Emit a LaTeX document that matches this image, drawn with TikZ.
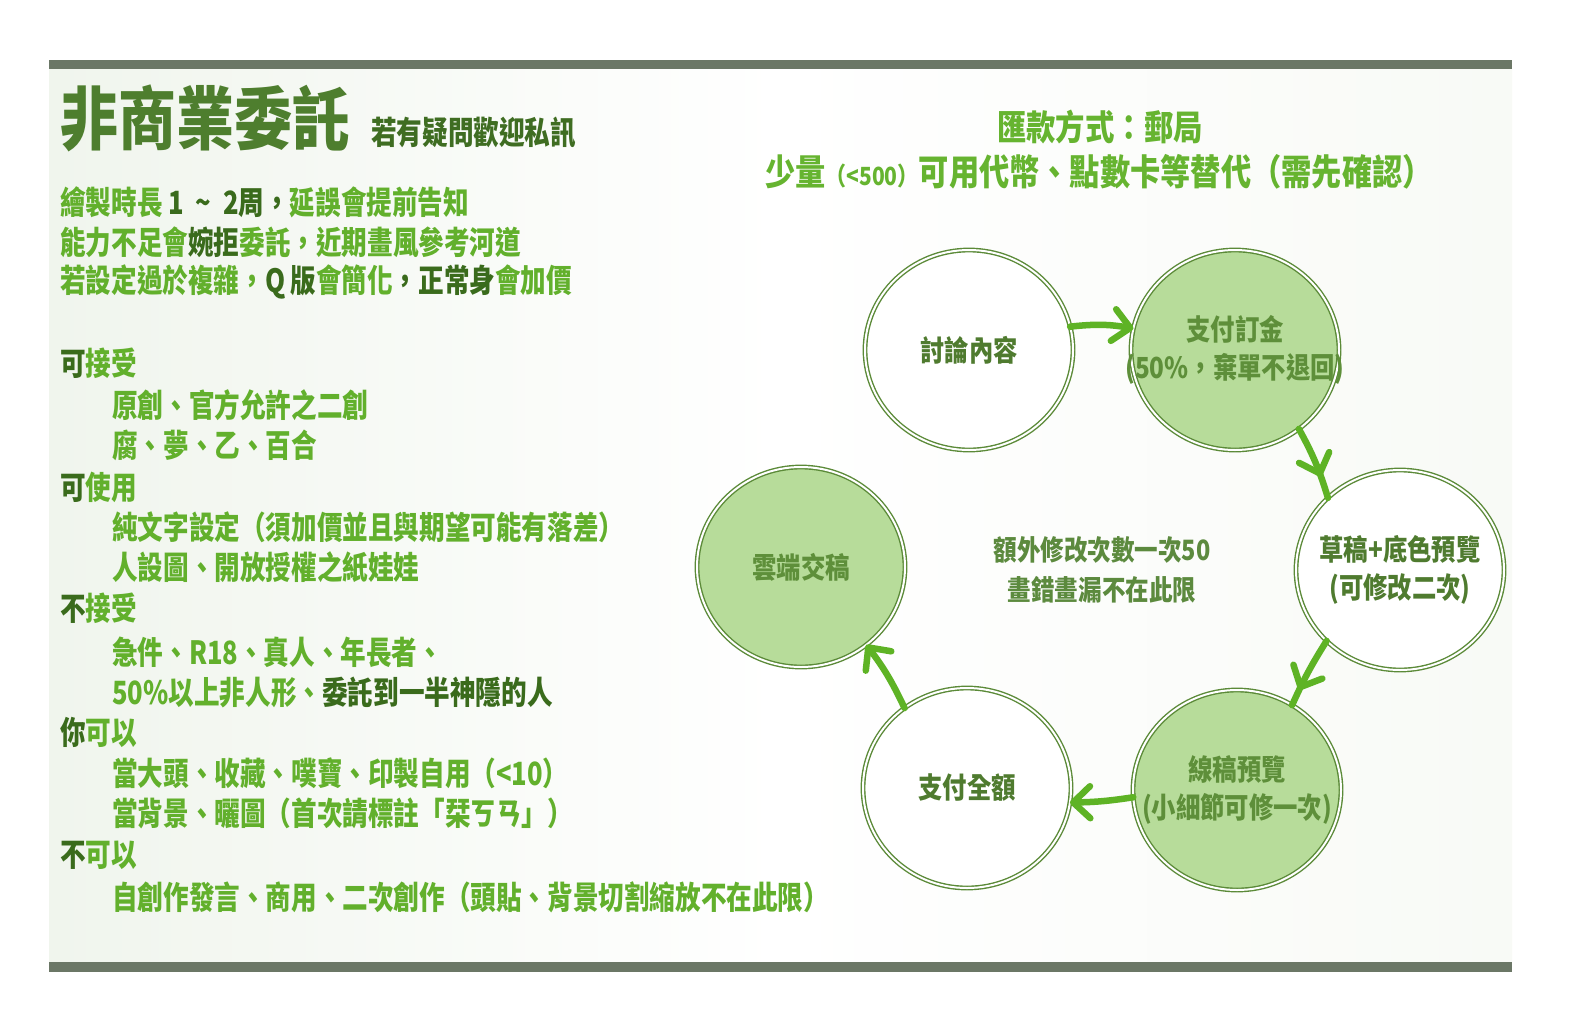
\documentclass[tikz,border=0pt]{standalone}
\usepackage{fontspec}
\usetikzlibrary{arrows.meta,decorations.markings,shapes.geometric}
\newfontfamily\cjk{Noto Sans CJK TC}[FakeStretch=0.84]
\newfontfamily\cjkn{Noto Sans CJK TC}[FakeStretch=0.8]
\newcommand\setfs[2]{\fontsize{#1}{#2}\selectfont}
\definecolor{brt}{HTML}{62B02C}
\definecolor{dk}{HTML}{3A6B1C}
\definecolor{ttl}{HTML}{4E7E2E}
\definecolor{sub}{HTML}{3F6D22}
\definecolor{hdr}{HTML}{66B430}
\definecolor{ring}{HTML}{5B8A38}
\definecolor{cfill}{HTML}{B7DC9A}
\definecolor{ctxt}{HTML}{4F7B2F}
\definecolor{ctxtb}{HTML}{5E8F3A}
\definecolor{ctrtxt}{HTML}{5C8A3E}
\definecolor{arr}{HTML}{5EB325}
\definecolor{barc}{HTML}{6B7766}
\definecolor{panelL}{HTML}{F0F5ED}
\definecolor{panelR}{HTML}{F8FAF6}
\begin{document}
\begin{tikzpicture}[x=1pt,y=-1pt,
  txt/.style={anchor=west, inner sep=0pt, text=brt, font=\cjkn\bfseries\setfs{32}{36}},
  hd/.style={txt},
  circ/.style={ellipse, minimum width=208pt, minimum height=200pt, inner sep=0pt, outer sep=0pt,
    draw=ring, line width=1.4pt, double=white, double distance=2pt, fill=white},
  fcirc/.style={circ, fill=cfill},
  ctext/.style={align=center, inner sep=0pt, text=ctxt, font=\cjk\bfseries\setfs{29}{38}},
  ctextb/.style={ctext, text=ctxtb},
  flowend/.style={draw=arr, line width=6.5pt, line cap=round,
    -{Straight Barb[length=17pt,width=32pt,line cap=round,line join=round]}},
  flowmid/.style={draw=arr, line width=6.5pt, line cap=round, postaction={decorate},
    decoration={markings, mark=at position #1 with {\arrow{Straight Barb[length=17pt,width=32pt,line cap=round,line join=round]}}}}
]
\useasboundingbox (0,0) rectangle (1574,1020);
\fill[white] (0,0) rectangle (1574,1020);
\shade[left color=panelL, right color=panelR, middle color=white] (49,69) rectangle (1512,962);
\fill[barc] (49,60) rectangle (1512,69);
\fill[barc] (49,962) rectangle (1512,972);

% left column
\node[txt, text=ttl, font=\cjk\bfseries\setfs{69}{69}] (title) at (60,118) {非商業委託};
\node[txt, text=sub, font=\cjkn\bfseries\setfs{32}{36}] (subt) at (371,133) {若有疑問歡迎私訊};
\node[txt] (l1) at (60,202) {繪製時長\textcolor{dk}{\ 1 \ {\char"7E} \ 2周，}延誤會提前告知};
\node[txt] (l2) at (60,242) {能力不足會\textcolor{dk}{婉拒}委託，近期畫風參考河道};
\node[txt] (l3) at (60,282) {若設定過於複雜，\textcolor{dk}{Q\,版}會簡化\textcolor{dk}{，正常身}會加價};

\node[hd] (h1) at (60,363) {\textcolor{dk}{可}接受};
\node[txt] (i1) at (112,405) {原創、官方允許之二創};
\node[txt] (i2) at (112,445) {腐、夢、乙、百合};
\node[hd] (h2) at (60,487) {\textcolor{dk}{可}使用};
\node[txt] (i3) at (112,527) {純文字設定（須加價並且與期望可能有落差）};
\node[txt] (i4) at (112,567) {人設圖、開放授權之紙娃娃};
\node[hd] (h3) at (60,608) {\textcolor{dk}{不}接受};
\node[txt] (i5) at (112,652) {急件、R18、真人、年長者、};
\node[txt] (i6) at (112,692) {50\%以上非人形、\textcolor{dk}{委託到一半神隱的人}};
\node[hd] (h4) at (60,732) {\textcolor{dk}{你}可以};
\node[txt] (i7) at (112,773) {當大頭、收藏、噗寶、印製自用（<10）};
\node[txt] (i8) at (112,813) {當背景、曬圖（首次請標註「栞ㄎㄢ」）};
\node[hd] (h5) at (60,855) {\textcolor{dk}{不}可以};
\node[txt] (i9) at (112,897) {自創作發言、商用、二次創作（頭貼、背景切割縮放不在此限）};

% right header
\node[inner sep=0pt, text=hdr, font=\cjk\bfseries\setfs{35}{40}] (pay) at (1100,127) {匯款方式：郵局};
\node[inner sep=0pt, text=hdr, font=\cjk\bfseries\setfs{36}{40}] (alt) at (1099,172) {少量{\setfs{25}{25}（<500）}可用代幣、點數卡等替代（需先確認）};

% cycle
\node[circ, label={[ctext]center:{討論內容}}] (n1) at (969,350) {};
\node[fcirc, label={[ctextb]center:{支付訂金\\(50\%，棄單不退回)}}] (n2) at (1235,350) {};
\node[circ, label={[ctext]center:{草稿+底色預覽\\(可修改二次)}}] (n3) at (1400,570) {};
\node[fcirc, label={[ctextb]center:{線稿預覽\\(小細節可修一次)}}] (n4) at (1237,790) {};
\node[circ, label={[ctext]center:{支付全額}}] (n5) at (967,788) {};
\node[fcirc, label={[ctextb]center:{雲端交稿}}] (n6) at (801,567) {};
\node[align=center, inner sep=0pt, text=ctrtxt, font=\cjk\bfseries\setfs{28}{40}] (note) at (1102,570) {額外修改次數一次50\\畫錯畫漏不在此限};

\draw[flowend] (n1.13) to[bend left=8] (n2.168);
\draw[flowmid=0.7] (n2.-51) to[bend left=6] (n3.135);
\draw[flowmid=0.77] (n3.224) to[bend right=4] (n4.57);
\draw[flowend] (n4.184) to[bend left=4] (n5.-8);
\draw[flowend] (n5.128) to[bend right=6] (n6.-50);
\end{tikzpicture}
\end{document}
